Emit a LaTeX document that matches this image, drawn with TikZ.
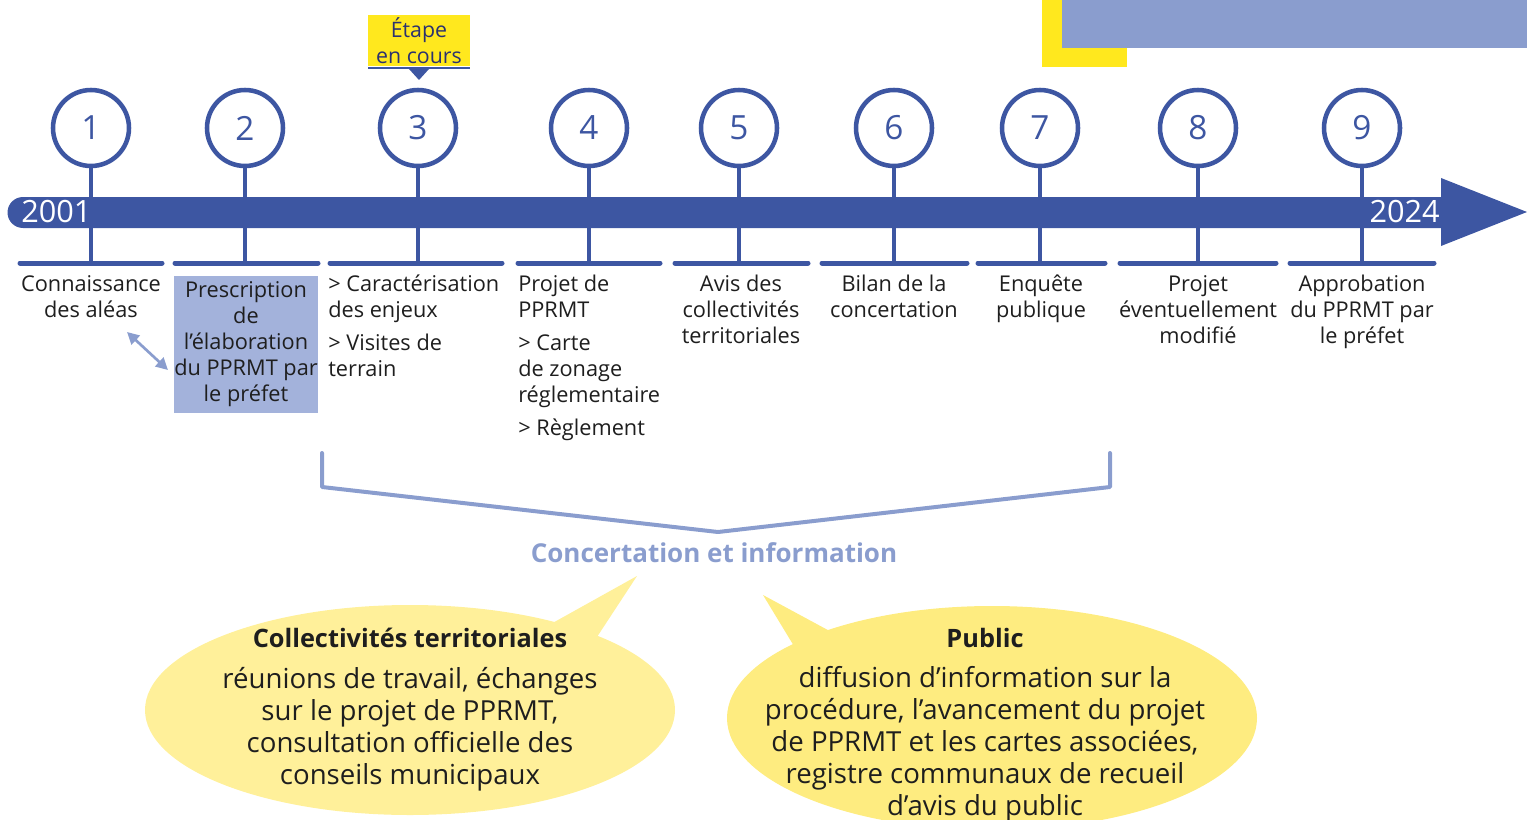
\documentclass[tikz,border=0pt]{standalone}
\usepackage{fontspec}
\setmainfont{Open Sans}
\usetikzlibrary{arrows.meta}
\definecolor{bleuFrise}{HTML}{3D56A2}
\definecolor{bleuClair}{HTML}{8A9DCE}
\definecolor{bleuBoite}{HTML}{A3B2DB}
\definecolor{jaune}{HTML}{FFE81E}
\definecolor{marine}{HTML}{2B3270}
\definecolor{bulleA}{HTML}{FFF09A}
\definecolor{bulleB}{HTML}{FEEC80}
\definecolor{texte}{HTML}{1E1E1E}
\tikzset{
    etape/.style={circle, draw=bleuFrise, line width=3.4pt, fill=white, minimum size=57pt,
        inner sep=0pt, text=bleuFrise, font=\fontsize{25}{29}\selectfont},
    tige/.style={bleuFrise, line width=3pt},
    palier/.style={bleuFrise, line width=3.75pt, line cap=round},
    legende/.style={anchor=north, inner sep=0pt, align=center, text=texte,
        font=\fontsize{16.3}{19.5}\selectfont},
    legendeG/.style={legende, anchor=north west, align=left},
    boite/.style={legende, anchor=center, fill=bleuBoite, minimum width=108pt, minimum height=103pt},
    fleche/.style={bleuClair, line width=2pt, arrows={Triangle[length=9pt,width=9pt]-Triangle[length=9pt,width=9pt]}},
    accolade/.style={bleuClair, line width=3pt, line cap=round, line join=round},
    bulletexte/.style={align=center, text=texte, font=\fontsize{20.7}{24}\selectfont},
    bulletitre/.style={bulletexte, font=\bfseries\fontsize{19}{23}\selectfont},
    annee/.style={text=white, inner sep=0pt, font=\fontsize{23}{27}\selectfont}
}
\begin{document}
\begin{tikzpicture}[x=0.75pt, y=-0.75pt]
    \useasboundingbox (0,0) rectangle (1527,820);
    % coin haut droit
    \fill[jaune] (1042,0) rectangle (1127,67);
    \fill[bleuClair] (1062,0) rectangle (1527,48);
    % frise
    \fill[bleuFrise] (23,197) -- (1441,197) -- (1441,178) -- (1527,212) -- (1441,246)
        -- (1441,228) -- (23,228) arc[start angle=90, end angle=270, radius=15.5] -- cycle;
    \foreach \i/\x in {1/91,2/245,3/418,4/589,5/739,6/894,7/1040,8/1198,9/1362} {
        \coordinate (b\i) at (\x,263);
        \node[etape] (c\i) at (\x,128) {\i};
        \draw[tige] (c\i) -- (b\i);
    }
    \foreach \a/\b in {20/162,175/318,330/502,518/660,675/808,822/967,978/1105,1120/1276,1290/1434} {
        \draw[palier] (\a,263) -- (\b,263);
    }
    \node[annee, anchor=west] (debut) at (21,212) {2001};
    \node[annee, anchor=east] (fin) at (1440,212) {2024};
    % etape en cours
    \node[fill=jaune, text=marine, align=center, minimum width=76.5pt, minimum height=38pt,
        inner sep=0pt, font=\fontsize{16}{19.5}\selectfont] (encours) at (419,40.5) {Étape\\en cours};
    \draw[bleuFrise, line width=2.2pt] (368,68) -- (470,68);
    \fill[bleuFrise] (409,69) -- (429,69) -- (419,80) -- cycle;
    % legendes
    \node[legende] (l1) at (91,275) {Connaissance\\des aléas};
    \node[boite] (l2) at (246,344.5) {Prescription\\de\\l’élaboration\\du PPRMT par\\le préfet};
    \node[legendeG] (l3) at (328,275) {> Caractérisation\\des enjeux\\[5pt]> Visites de\\terrain};
    \node[legendeG] (l4) at (518,275) {Projet de\\PPRMT\\[5pt]> Carte\\de zonage\\réglementaire\\[5pt]> Règlement};
    \node[legende] (l5) at (741,275) {Avis des\\collectivités\\territoriales};
    \node[legende] (l6) at (894,275) {Bilan de la\\concertation};
    \node[legende] (l7) at (1041,275) {Enquête\\publique};
    \node[legende] (l8) at (1198,275) {Projet\\éventuellement\\modifié};
    \node[legende] (l9) at (1362,275) {Approbation\\du PPRMT par\\le préfet};
    \coordinate (f1) at (127,332);
    \coordinate (f2) at (168,370);
    \draw[fleche] (f1) -- (f2);
    % concertation
    \coordinate (g1) at (322,453);
    \coordinate (g2) at (322,487);
    \coordinate (g3) at (718,532);
    \coordinate (g4) at (1110,487);
    \coordinate (g5) at (1110,453);
    \draw[accolade] (g1) -- (g2) -- (g3) -- (g4) -- (g5);
    \node[text=bleuClair, font=\bfseries\fontsize{19.5}{23}\selectfont] (concert) at (714,553) {Concertation et information};
    % bulles
    \fill[bulleA] (410,710) ellipse [x radius=265, y radius=105];
    \fill[bulleA] (540,630) -- (637,576) -- (595,640) -- cycle;
    \fill[bulleB] (992,718) ellipse [x radius=265, y radius=112];
    \fill[bulleB] (800,656) -- (763,595) -- (850,642) -- cycle;
    \node[bulletitre] (titreA) at (410,638) {Collectivités territoriales};
    \node[bulletexte] (texteA) at (410,729) {réunions de travail, échanges\\sur le projet de PPRMT,\\consultation officielle des\\conseils municipaux};
    \node[bulletitre] (titreB) at (985,638) {Public};
    \node[bulletexte] (texteB) at (985,744.5) {diffusion d’information sur la\\procédure, l’avancement du projet\\de PPRMT et les cartes associées,\\registre communaux de recueil\\d’avis du public};
\end{tikzpicture}
\end{document}
